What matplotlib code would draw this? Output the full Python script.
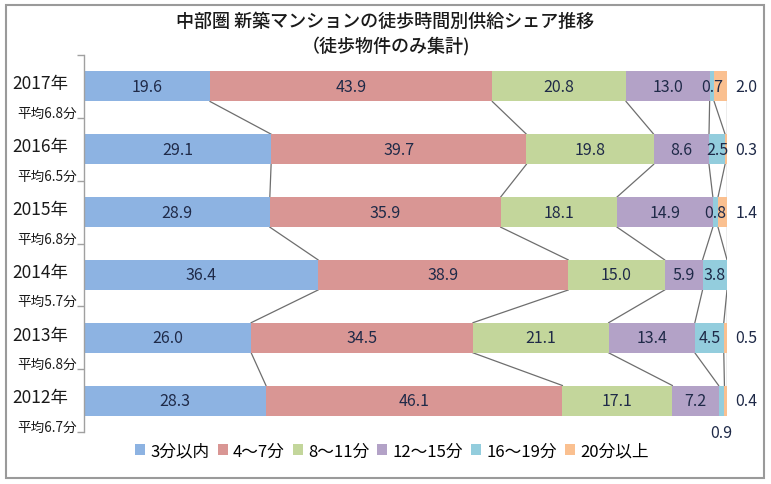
import matplotlib
matplotlib.use("Agg")
import matplotlib.pyplot as plt
from matplotlib.patches import Rectangle, Patch
import numpy as np

plt.rcParams['font.family'] = ['Noto Sans CJK JP', 'DejaVu Sans']

years = ["2017年", "2016年", "2015年", "2014年", "2013年", "2012年"]
averages = ["平均6.8分", "平均6.5分", "平均6.8分", "平均5.7分", "平均6.8分", "平均6.7分"]
series_names = ["3分以内", "4～7分", "8～11分", "12～15分", "16～19分", "20分以上"]
v_3 = [19.6, 29.1, 28.9, 36.4, 26.0, 28.3]
v_4_7 = [43.9, 39.7, 35.9, 38.9, 34.5, 46.1]
v_8_11 = [20.8, 19.8, 18.1, 15.0, 21.1, 17.1]
v_12_15 = [13.0, 8.6, 14.9, 5.9, 13.4, 7.2]
v_16_19 = [0.7, 2.5, 0.8, 3.8, 4.5, 0.9]
v_20 = [2.0, 0.3, 1.4, 0.0, 0.5, 0.4]

colors = ["#8DB3E2", "#D99694", "#C3D69B", "#B3A2C7", "#93CDDD", "#FAC090"]
label_color = "#1F2A48"

data = np.array([v_3, v_4_7, v_8_11, v_12_15, v_16_19, v_20])  # series x years

fig = plt.figure(figsize=(7.71, 4.85), dpi=100)
W, H = 771, 485
ax = fig.add_axes([84 / W, 1 - 433 / H, (727 - 84) / W, (433 - 56) / H])

n = len(years)
ypos = np.arange(n)
bh = 0.48
left = np.zeros(n)
cums = []
for s in range(len(series_names)):
    vals = data[s]
    ax.barh(ypos, vals, left=left, height=bh, color=colors[s], label=series_names[s], zorder=2)
    for i in range(n):
        v = vals[i]
        if v <= 0:
            continue
        cx = left[i] + v / 2
        cy = ypos[i]
        if s == 5:
            cx = 103.0
        if s == 4 and i == 5:
            cy = ypos[i] + 0.5
        ax.text(cx, cy, f"{v:.1f}", ha="center", va="center", fontsize=11.5,
                color=label_color, clip_on=False, zorder=4)
    left = left + vals
    cums.append(left.copy())

# series lines
for k in range(len(cums)):
    c = cums[k]
    for i in range(n - 1):
        ax.plot([c[i], c[i + 1]], [ypos[i] + bh / 2, ypos[i + 1] - bh / 2],
                color="#6E6E6E", lw=0.9, zorder=1)

ax.set_xlim(0, 100)
ax.set_ylim(n - 0.5, -0.5)
ax.set_xticks([])
ax.set_yticks(np.arange(-0.5, n, 1.0))
ax.set_yticklabels([])
ax.tick_params(axis="y", direction="out", length=5, color="#A0A0A0", width=1)
for sp in ["top", "right", "bottom"]:
    ax.spines[sp].set_visible(False)
ax.spines["left"].set_color("#A0A0A0")
ax.spines["left"].set_linewidth(1)

# category labels
for i in range(n):
    ax.text(-6.8, ypos[i] - 0.05, years[i], ha="center", va="center", fontsize=12.5,
            color="#1A1A1A", clip_on=False)
    ax.text(-5.7, ypos[i] + 0.42, averages[i], ha="center", va="center", fontsize=9.8,
            color="#1A1A1A", clip_on=False)

# title
fig.text(0.5, 1 - 22 / H, "中部圏 新築マンションの徒歩時間別供給シェア推移", ha="center", va="center",
         fontsize=13, fontweight="medium", color="#1A1A1A")
fig.text(0.5, 1 - 47 / H, "（徒歩物件のみ集計)", ha="center", va="center",
         fontsize=13, fontweight="medium", color="#1A1A1A")

# legend
handles = [Patch(facecolor=colors[s], edgecolor="none") for s in range(len(series_names))]
fig.legend(handles, series_names, loc="center", bbox_to_anchor=(392 / W, 1 - 452 / H), ncol=6,
           frameon=False, fontsize=12, handlelength=0.6, handleheight=0.6, handletextpad=0.3,
           columnspacing=0.5)

# outer frame
fig.patches.append(Rectangle((6 / W, 1 - 479 / H), (764 - 6) / W, (479 - 6) / H,
                             transform=fig.transFigure, fill=False, edgecolor="#9A9A9A", lw=1.5))

fig.savefig("out.png", dpi=100)
